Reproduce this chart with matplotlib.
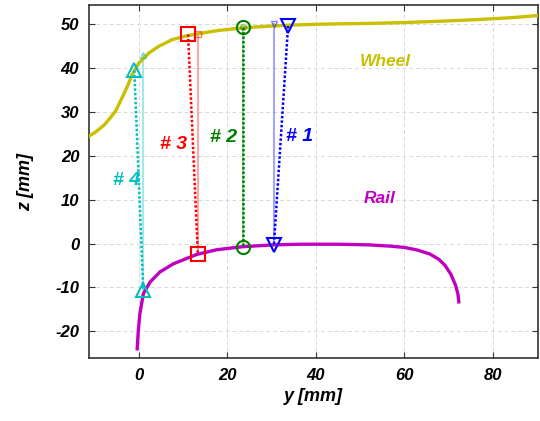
import numpy as np
import matplotlib
matplotlib.use("Agg")
import matplotlib.pyplot as plt

plt.rcParams['font.family'] = ['Liberation Sans', 'DejaVu Sans']
plt.rcParams['axes.unicode_minus'] = False

# wheel profile (y, z) in mm
wheel_y = [-11.3, -10.0, -9.0, -7.8, -6.8, -5.3, -3.8, -2.6, -1.5, 0.0, 2.3, 4.5, 7.5, 10.5, 14.3, 18.0,
           23.6, 28.0, 33.7, 40.0, 45.0, 52.0, 60.0, 68.0, 77.0, 84.0, 90.2]
wheel_z = [24.5, 25.3, 26.1, 27.1, 28.3, 30.2, 33.3, 35.9, 38.6, 41.2, 43.5, 45.0, 46.5, 47.3, 48.0, 48.6,
           49.2, 49.5, 49.8, 50.0, 50.1, 50.2, 50.4, 50.7, 51.1, 51.5, 52.0]

# rail profile (y, z) in mm
rail_y = [-0.4, -0.15, 0.2, 1.0, 2.5, 4.7, 7.8, 13.0, 17.6, 23.6, 30.5, 36.4, 45.0, 52.0,
          57.0, 60.1, 63.0, 65.8, 67.8, 69.2, 70.5, 71.6, 72.1, 72.3]
rail_z = [-24.0, -19.8, -16.0, -11.4, -8.8, -6.5, -4.6, -2.5, -1.4, -0.7, -0.3, -0.15, -0.15, -0.3,
          -0.6, -0.9, -1.5, -2.4, -3.6, -5.0, -7.0, -9.6, -11.5, -13.3]

# contact points: wheel side, rail side
labels = ["# 1", "# 2", "# 3", "# 4"]
colors = ["#0000ff", "#008000", "#ff0000", "#00bfbf"]
markers_w = ["v", "o", "s", "^"]
cw_y = [33.7, 23.6, 11.1, -1.06]
cw_z = [49.6, 49.3, 47.7, 39.5]
cr_y = [30.5, 23.6, 13.3, 0.97]
cr_z = [-0.4, -0.8, -2.3, -10.7]
cr_top = [50.0, 49.3, 47.8, 43.0]
label_y = [36.4, 19.2, 7.9, -2.9]
label_z = [24.5, 24.3, 22.7, 14.3]

fig = plt.figure(figsize=(5.4, 4.21), dpi=100)
ax = fig.add_axes([0.1648, 0.1496, 0.8315, 0.8385])

ax.plot(wheel_y, wheel_z, color="#c8c000", lw=2.4, zorder=3, solid_joinstyle="round")
ax.plot(rail_y, rail_z, color="#c000c0", lw=2.4, zorder=3, solid_joinstyle="round")

for i in range(4):
    c = colors[i]
    # light vertical line at rail contact point
    ax.plot([cr_y[i], cr_y[i]], [cr_z[i], cr_top[i]], color=c, lw=1.5, alpha=0.35, zorder=2)
    ax.plot(cr_y[i], cr_top[i], marker=markers_w[i], color=c, ms=4, mfc="none", mew=1.0, alpha=0.5, zorder=4)
    # dotted line linking wheel and rail contact points
    ax.plot([cw_y[i], cr_y[i]], [cw_z[i], cr_z[i]], color=c, lw=1.8, ls=(0, (1, 0.8)), zorder=4)
    ax.plot(cw_y[i], cw_z[i], marker=markers_w[i], color=c, ms=9.5, mfc="none", mew=1.5, zorder=5)
    ax.plot(cr_y[i], cr_z[i], marker=markers_w[i], color=c, ms=9.5, mfc="none", mew=1.5, zorder=5)
    ax.text(label_y[i], label_z[i], labels[i], color=c, fontsize=14, fontweight="bold",
            fontstyle="italic", ha="center", va="center")

ax.text(55.6, 41.6, "Wheel", color="#c8c000", fontsize=12.5, fontweight="bold", fontstyle="italic",
        ha="center", va="center")
ax.text(54.5, 10.2, "Rail", color="#c000c0", fontsize=12.5, fontweight="bold", fontstyle="italic",
        ha="center", va="center")

ax.set_xlim(-11.3, 90.2)
ax.set_ylim(-26.1, 54.4)
ax.set_xticks([0, 20, 40, 60, 80])
ax.set_yticks([-20, -10, 0, 10, 20, 30, 40, 50])
ax.grid(True, color="#d8d8d8", ls=(0, (4, 3)), lw=0.7)
ax.tick_params(direction="in", top=True, right=True, length=4, color="#333333", pad=7)
for lab in ax.get_xticklabels() + ax.get_yticklabels():
    lab.set_fontweight("bold")
    lab.set_fontstyle("italic")
    lab.set_fontsize(12)
for s in ax.spines.values():
    s.set_color("#333333")
    s.set_linewidth(1.2)

ax.set_xlabel("y [mm]", fontsize=13, fontweight="bold", fontstyle="italic", labelpad=4)
ax.set_ylabel("z [mm]", fontsize=13, fontweight="bold", fontstyle="italic", labelpad=15)

fig.savefig("out.png", dpi=100)
